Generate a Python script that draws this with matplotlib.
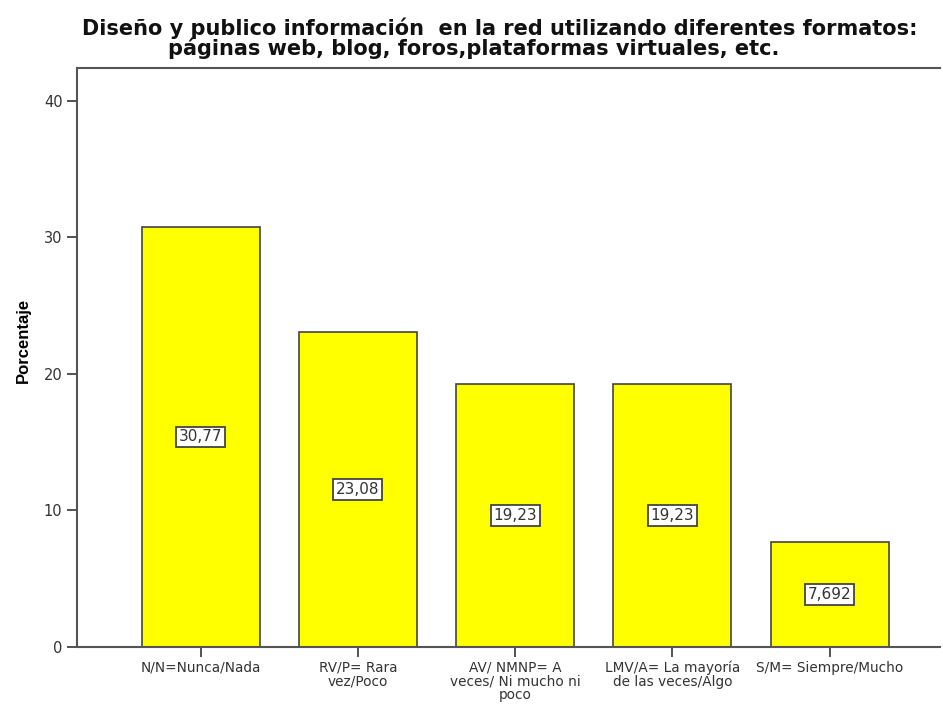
import numpy as np
import matplotlib
matplotlib.use("Agg")
import matplotlib.pyplot as plt

plt.rcParams['font.family'] = ['DejaVu Sans']

# datos
categorias = ['N/N=Nunca/Nada',
              'RV/P= Rara\nvez/Poco',
              'AV/ NMNP= A\nveces/ Ni mucho ni\npoco',
              'LMV/A= La mayoría\nde las veces/Algo',
              'S/M= Siempre/Mucho']
porcentajes = [30.77, 23.08, 19.23, 19.23, 7.692]
etiquetas = ['30,77', '23,08', '19,23', '19,23', '7,692']
yticks = [0, 10, 20, 30, 40]

fig = plt.figure(figsize=(9.43, 7.09), dpi=100)
ax = fig.add_axes([0.0817, 0.0874, 0.915, 0.816])

x = np.arange(len(categorias))
ax.bar(x, porcentajes, width=0.75, color='#ffff00', edgecolor='#444444', linewidth=1.2)

for xi, v, lab in zip(x, porcentajes, etiquetas):
    ax.text(xi, v / 2, lab, ha='center', va='center', fontsize=11, color='#333333',
            bbox=dict(boxstyle='square,pad=0.18', fc='white', ec='#444444', lw=1.3))

ax.set_xlim(-0.785, 4.7)
ax.set_ylim(0, 42.35)
ax.set_yticks(yticks)
ax.set_yticklabels([str(t) for t in yticks], fontsize=10.5, color='#333333')
ax.set_xticks(x)
ax.set_xticklabels(categorias, fontsize=9.8, color='#333333', linespacing=0.95)
ax.tick_params(axis='both', direction='out', length=7, width=1.3, color='#444444')
ax.tick_params(axis='x', pad=3)

for s in ax.spines.values():
    s.set_color('#555555')
    s.set_linewidth(1.5)
ax.spines['right'].set_visible(False)

ax.set_ylabel('Porcentaje', fontsize=12, fontweight='bold', family='Liberation Sans')
ax.yaxis.set_label_coords(-0.054, 0.53)

fig.text(0.530, 0.951, 'Diseño y publico información  en la red utilizando diferentes formatos:',
         ha='center', va='baseline', fontsize=15, fontweight='bold', color='#111111')
fig.text(0.502, 0.923, 'páginas web, blog, foros,plataformas virtuales, etc.',
         ha='center', va='baseline', fontsize=15, fontweight='bold', color='#111111')

plt.savefig('out.png', dpi=100)
